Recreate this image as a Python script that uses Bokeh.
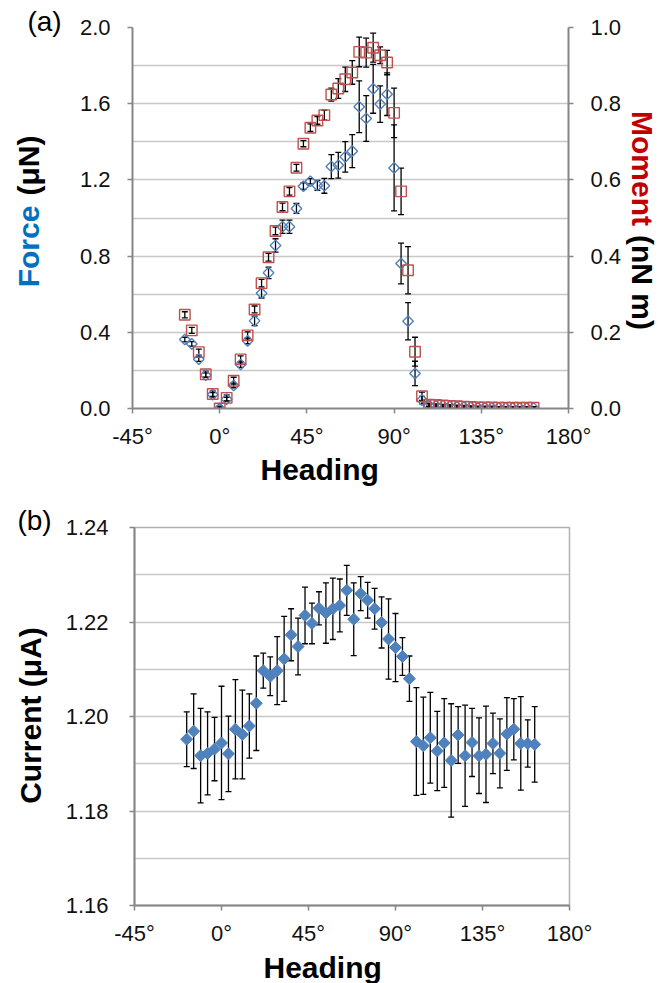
import math
from bokeh.plotting import figure
from bokeh.models import (Range1d, LinearAxis, FixedTicker, Whisker, TeeHead,
                          ColumnDataSource, NumeralTickFormatter, Title)
from bokeh.core.properties import value
from bokeh.layouts import column, row
from bokeh.embed import file_html
from bokeh.resources import INLINE

# ---------------- data ----------------
heading = [-18, -14.4, -10.8, -7.2, -3.6, 0, 3.6, 7.2, 10.8, 14.4, 18, 21.6, 25.2, 28.8,
           32.4, 36, 39.6, 43.2, 46.8, 50.4, 54, 57.6, 61.2, 64.8, 68.4, 72, 75.6, 79.2,
           82.8, 86.4, 90, 93.6, 97.2, 100.8, 104.4, 108, 111.6, 115.2, 118.8, 122.4, 126,
           129.6, 133.2, 136.8, 140.4, 144, 147.6, 151.2, 154.8, 158.4, 162]

force = [0.362, 0.339, 0.259, 0.175, 0.073, 0.000, 0.049, 0.121, 0.231, 0.355, 0.460,
         0.605, 0.712, 0.856, 0.954, 0.954, 1.050, 1.167, 1.193, 1.171, 1.169, 1.270,
         1.277, 1.321, 1.351, 1.584, 1.522, 1.678, 1.598, 1.650, 1.263, 0.761, 0.458,
         0.184, 0.044, 0.016, 0.015, 0.014, 0.012, 0.010, 0.008, 0.006, 0.005, 0.005,
         0.004, 0.004, 0.004, 0.003, 0.003, 0.003, 0.003]
force_err = [0.012, 0.012, 0.012, 0.012, 0.010, 0.008, 0.010, 0.012, 0.015, 0.015, 0.025,
             0.025, 0.030, 0.035, 0.035, 0.035, 0.026, 0.017, 0.014, 0.026, 0.039, 0.063,
             0.068, 0.080, 0.087, 0.136, 0.120, 0.128, 0.096, 0.112, 0.226, 0.107, 0.098,
             0.064, 0.020, 0.008, 0.006, 0.006, 0.005, 0.005, 0.005, 0.004, 0.004, 0.004,
             0.004, 0.004, 0.004, 0.004, 0.004, 0.004, 0.004]

moment = [0.246, 0.205, 0.148, 0.090, 0.038, 0.000, 0.028, 0.073, 0.129, 0.192, 0.260,
          0.329, 0.397, 0.466, 0.529, 0.570, 0.632, 0.695, 0.737, 0.756, 0.770, 0.824,
          0.840, 0.864, 0.882, 0.936, 0.934, 0.947, 0.927, 0.908, 0.776, 0.570, 0.363,
          0.149, 0.032, 0.010, 0.009, 0.008, 0.007, 0.006, 0.005, 0.004, 0.003, 0.003,
          0.003, 0.002, 0.002, 0.002, 0.002, 0.002, 0.002]
moment_err = [0.008, 0.008, 0.008, 0.008, 0.008, 0.006, 0.008, 0.009, 0.009, 0.009, 0.009,
              0.010, 0.010, 0.010, 0.010, 0.010, 0.009, 0.008, 0.010, 0.010, 0.013, 0.017,
              0.026, 0.032, 0.031, 0.039, 0.038, 0.038, 0.022, 0.032, 0.065, 0.061, 0.062,
              0.038, 0.011, 0.004, 0.003, 0.003, 0.003, 0.003, 0.003, 0.003, 0.003, 0.003,
              0.003, 0.003, 0.003, 0.003, 0.003, 0.003, 0.003]

current = [1.1952, 1.1969, 1.1917, 1.1922, 1.1931, 1.1944, 1.1921, 1.1973, 1.1962, 1.1980,
           1.2028, 1.2097, 1.2085, 1.2097, 1.2122, 1.2173, 1.2148, 1.2214, 1.2197, 1.2229,
           1.2219, 1.2228, 1.2235, 1.2267, 1.2206, 1.2260, 1.2246, 1.2228, 1.2199, 1.2164,
           1.2146, 1.2127, 1.2080, 1.1947, 1.1938, 1.1955, 1.1927, 1.1944, 1.1907, 1.1961,
           1.1917, 1.1945, 1.1917, 1.1920, 1.1943, 1.1922, 1.1963, 1.1973, 1.1943, 1.1943,
           1.1941]
current_err = [0.0058, 0.0079, 0.0100, 0.0088, 0.0067, 0.0120, 0.0080, 0.0105, 0.0094, 0.0068,
               0.0100, 0.0037, 0.0041, 0.0072, 0.0090, 0.0055, 0.0060, 0.0060, 0.0043, 0.0035,
               0.0064, 0.0065, 0.0056, 0.0053, 0.0077, 0.0036, 0.0038, 0.0043, 0.0054, 0.0085,
               0.0072, 0.0040, 0.0048, 0.0114, 0.0103, 0.0096, 0.0084, 0.0094, 0.0120, 0.0060,
               0.0107, 0.0072, 0.0080, 0.0102, 0.0064, 0.0073, 0.0077, 0.0065, 0.0099, 0.0050,
               0.0080]

x_ticks = [-45, 0, 45, 90, 135, 180]
x_tick_labels = ["-45°", "0°", "45°", "90°", "135°", "180°"]
force_ticks = [0.0, 0.4, 0.8, 1.2, 1.6, 2.0]
force_grid = [0.0, 0.2, 0.4, 0.6, 0.8, 1.0, 1.2, 1.4, 1.6, 1.8, 2.0]
moment_ticks = [0.0, 0.2, 0.4, 0.6, 0.8, 1.0]
current_ticks = [1.16, 1.18, 1.20, 1.22, 1.24]
current_grid = [1.17, 1.18, 1.19, 1.20, 1.21, 1.22, 1.23]

# ---------------- styling ----------------
FONT = "Liberation Sans"
AXIS_COL = "#868686"
GRID_COL = "#C8C8C8"
BLUE = "#4F81BD"
RED = "#C0504D"
TICK_FS = "22px"
TITLE_FS = "30px"


def style_axis(ax, standoff):
    ax.axis_line_color = AXIS_COL
    ax.axis_line_width = 2
    ax.major_tick_line_color = AXIS_COL
    ax.major_tick_line_width = 1.5
    ax.major_tick_out = 5
    ax.major_tick_in = 0
    ax.minor_tick_line_color = None
    ax.major_label_text_font = FONT
    ax.major_label_text_font_size = TICK_FS
    ax.major_label_text_color = "#111111"
    ax.major_label_standoff = standoff


def strip(w, h):
    s = figure(width=w, height=h, title=None, x_range=Range1d(0, w), y_range=Range1d(0, h),
               x_axis_type=None, y_axis_type=None, output_backend="svg",
               toolbar_location=None, min_border=0, min_border_left=0, min_border_right=0,
               min_border_top=0, min_border_bottom=0)
    s.outline_line_color = None
    try:
        s.frame_align = False   # keep the strip's frame = whole strip
    except Exception:
        pass
    return s


def add_text(s, x, y_px, txt, size, color="black", bold=True, angle=0.0):
    # (x, y_px) is the centre of the text, measured from the strip's top-left corner
    s.text(x=[x], y=[s.height - y_px], text=[txt], angle=angle,
           text_font=value(FONT), text_font_size=value(size),
           text_font_style="bold" if bold else "normal", text_color=color,
           text_align="center", text_baseline="middle")


def heading_title(offset, valign):
    return Title(text="Heading", align="left", offset=offset, standoff=0,
                 vertical_align=valign, text_font=FONT, text_font_size=TITLE_FS,
                 text_font_style="bold", text_color="black")


# ---------------- panel (a) ----------------
pa = figure(width=555, height=490, x_range=Range1d(-45, 180), y_range=Range1d(0, 2.0),
            output_backend="svg", toolbar_location=None,
            min_border_left=62, min_border_right=57, min_border_top=27, min_border_bottom=82)
pa.extra_y_ranges = {"moment": Range1d(0, 1.0)}
pa.add_layout(LinearAxis(y_range_name="moment"), "right")
pa.outline_line_color = None

xa = pa.below[0]
xa.ticker = FixedTicker(ticks=x_ticks, minor_ticks=[])
xa.major_label_overrides = dict(zip(x_ticks, x_tick_labels))
style_axis(xa, 10)
pa.add_layout(heading_title(128, "middle"), "below")

ya = pa.left[0]
ya.ticker = FixedTicker(ticks=force_ticks, minor_ticks=[])
ya.formatter = NumeralTickFormatter(format="0.0")
style_axis(ya, 17)

yr = pa.right[0]
yr.ticker = FixedTicker(ticks=moment_ticks, minor_ticks=[])
yr.formatter = NumeralTickFormatter(format="0.0")
style_axis(yr, 17)

pa.xgrid.grid_line_color = None
pa.ygrid.ticker = FixedTicker(ticks=force_grid)
pa.ygrid.grid_line_color = GRID_COL
pa.ygrid.grid_line_width = 1.5

src_a = ColumnDataSource(dict(
    x=heading, f=force, fu=[v + e for v, e in zip(force, force_err)],
    fl=[v - e for v, e in zip(force, force_err)],
    m=moment, mu=[v + e for v, e in zip(moment, moment_err)],
    ml=[v - e for v, e in zip(moment, moment_err)]))

pa.add_layout(Whisker(source=src_a, base="x", upper="fu", lower="fl",
                      line_color="black", line_width=1.3,
                      upper_head=TeeHead(size=6, line_color="black", line_width=1.3),
                      lower_head=TeeHead(size=6, line_color="black", line_width=1.3)))
pa.add_layout(Whisker(source=src_a, base="x", upper="mu", lower="ml", y_range_name="moment",
                      line_color="black", line_width=1.3,
                      upper_head=TeeHead(size=6, line_color="black", line_width=1.3),
                      lower_head=TeeHead(size=6, line_color="black", line_width=1.3)))

pa.scatter("x", "f", source=src_a, marker="square", angle=math.pi / 4, size=7.5,
           fill_color=None, line_color=BLUE, line_width=1.4)
pa.scatter("x", "m", source=src_a, marker="square", size=10.5, y_range_name="moment",
           fill_color=None, line_color=RED, line_width=1.4)

# side strips holding the multi-coloured axis titles and the panel letter
la = strip(70, 490)
add_text(la, 44, 21, "(a)", "28px", bold=False)
add_text(la, 28, 246, "Force", TITLE_FS, color="#0070C0", angle=math.pi / 2)
add_text(la, 28, 165, "(μN)", TITLE_FS, angle=math.pi / 2)

ra = strip(46, 490)
add_text(ra, 17, 168, "Moment", TITLE_FS, color="#C00000", angle=-math.pi / 2)
add_text(ra, 17, 282, "(nN m)", TITLE_FS, angle=-math.pi / 2)

# ---------------- panel (b) ----------------
pb = figure(width=611, height=493, x_range=Range1d(-45, 180), y_range=Range1d(1.16, 1.24),
            output_backend="svg", toolbar_location=None,
            min_border_left=74, min_border_right=102, min_border_top=37, min_border_bottom=73)
pb.outline_line_color = "#B0B0B0"
pb.outline_line_width = 1.5

xb = pb.below[0]
xb.ticker = FixedTicker(ticks=x_ticks, minor_ticks=[])
xb.major_label_overrides = dict(zip(x_ticks, x_tick_labels))
style_axis(xb, 10)
pb.add_layout(heading_title(129, "bottom"), "below")

yb = pb.left[0]
yb.ticker = FixedTicker(ticks=current_ticks, minor_ticks=[])
yb.formatter = NumeralTickFormatter(format="0.00")
style_axis(yb, 21)

pb.xgrid.grid_line_color = None
pb.ygrid.ticker = FixedTicker(ticks=current_grid)
pb.ygrid.grid_line_color = GRID_COL
pb.ygrid.grid_line_width = 1.5

src_b = ColumnDataSource(dict(
    x=heading, c=current, cu=[v + e for v, e in zip(current, current_err)],
    cl=[v - e for v, e in zip(current, current_err)]))
pb.add_layout(Whisker(source=src_b, base="x", upper="cu", lower="cl",
                      line_color="black", line_width=1.3,
                      upper_head=TeeHead(size=6, line_color="black", line_width=1.3),
                      lower_head=TeeHead(size=6, line_color="black", line_width=1.3)))
pb.scatter("x", "c", source=src_b, marker="square", angle=math.pi / 4, size=8.5,
           fill_color=BLUE, line_color=BLUE, line_width=1)

lb = strip(60, 493)
add_text(lb, 34, 30, "(b)", "28px", bold=False)
add_text(lb, 30, 225, "Current (μA)", TITLE_FS, angle=math.pi / 2)

for f in (pa, pb):
    try:
        f.frame_align = False
    except Exception:
        pass

layout = column(row(la, pa, ra), row(lb, pb))
open("out.html", "w").write(file_html(layout, INLINE))
